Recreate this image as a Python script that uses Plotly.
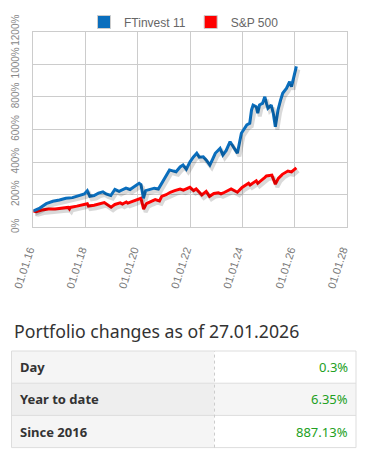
import datetime as dt
import plotly.graph_objects as go

W, H = 368, 460

# ---------------- data ----------------
ft_dates = ["2016-01-01","2016-04-01","2016-07-01","2016-10-01","2017-01-01","2017-04-01","2017-07-01",
            "2017-10-01","2017-12-15","2018-01-25","2018-03-01","2018-05-01","2018-07-01","2018-09-01",
            "2018-10-15","2018-12-20","2019-02-15","2019-04-15","2019-06-01","2019-07-20","2019-09-15",
            "2019-11-15","2020-01-20","2020-02-15","2020-03-20","2020-04-20","2020-06-15","2020-08-20",
            "2020-10-15","2020-12-15","2021-02-15","2021-03-20","2021-05-15","2021-06-20","2021-08-15",
            "2021-09-25","2021-11-10","2022-01-01","2022-02-15","2022-04-05","2022-05-10","2022-07-05",
            "2022-08-20","2022-10-05","2022-11-15","2022-12-20","2023-02-25","2023-04-05","2023-05-20",
            "2023-07-15","2023-08-20","2023-09-25","2023-10-25","2023-12-20","2024-01-15","2024-03-05",
            "2024-04-15","2024-05-10","2024-06-01","2024-07-15","2024-08-05","2024-08-30","2024-10-10",
            "2024-11-12","2024-12-05","2024-12-25","2025-02-10","2025-03-10","2025-04-08","2025-05-15",
            "2025-06-20","2025-07-20","2025-09-10","2025-10-25","2025-11-20","2026-01-05","2026-01-27"]
ft_values = [100,118,145,160,168,178,182,
             195,205,225,190,195,210,218,
             205,195,232,220,228,240,232,
             250,270,262,178,225,232,240,
             235,280,330,352,345,341,370,
             382,356,402,430,454,430,433,
             410,382,420,454,484,444,470,
             525,500,474,454,577,597,628,
             638,720,750,740,700,750,760,
             801,760,730,750,700,617,720,
             780,822,852,893,863,945,987]

sp_dates = ["2016-01-01","2016-02-10","2016-05-01","2016-08-01","2016-11-01","2017-02-01","2017-05-01",
            "2017-05-20","2017-06-01","2017-09-01","2017-12-01","2018-01-25","2018-02-10","2018-05-01",
            "2018-09-20","2018-12-24","2019-02-15","2019-05-01","2019-06-01","2019-07-25","2019-08-15",
            "2019-11-01","2020-02-15","2020-03-23","2020-05-01","2020-07-01","2020-09-01","2020-10-30",
            "2020-12-01","2021-02-01","2021-04-01","2021-06-01","2021-08-15","2021-10-01","2021-12-30",
            "2022-02-20","2022-03-28","2022-06-15","2022-08-15","2022-09-30","2022-12-01","2023-02-01",
            "2023-03-10","2023-05-01","2023-07-30","2023-10-25","2023-12-30","2024-03-30","2024-04-20",
            "2024-07-15","2024-08-05","2024-11-10","2024-12-05","2025-02-18","2025-04-08","2025-05-20",
            "2025-07-15","2025-10-01","2025-11-20","2026-01-27"]
sp_values = [100,96,106,112,113,118,122,
             112,122,130,138,145,130,135,
             152,123,140,150,142,155,148,
             160,178,112,145,158,170,162,
             190,200,215,225,235,228,245,
             225,235,198,220,190,208,212,
             205,215,235,215,245,270,260,
             285,270,305,315,320,265,300,
             325,345,340,365]

series_names = ["FTinvest 11", "S&P 500"]
series_colors = ["#0a6ebd", "#ff0000"]

y_ticks = [0, 200, 400, 600, 800, 1000, 1200]
y_tick_labels = ["0%", "200%", "400%", "600%", "800%", "1000%", "1200%"]
x_range = ["2016-01-01", "2028-01-01"]

table_title = "Portfolio changes as of 27.01.2026"
table_labels = ["Day", "Year to date", "Since 2016"]
table_values = ["0.3%", "6.35%", "887.13%"]

# ---------------- layout geometry (px) ----------------
PL, PR, PT, PB = 33.3, 346.7, 31.7, 227.3
xdom = [PL / W, PR / W]
ydom = [1 - PB / H, 1 - PT / H]

def px(x):
    return x / W

def py(y):
    return 1 - y / H

# shadow offset: shadow axes ranges shifted by a few pixels
d0 = dt.datetime(2016, 1, 1); d1 = dt.datetime(2028, 1, 1)
px_x = (d1 - d0) / (PR - PL)
sx, sy = 2.0, 3.0
sh_x_range = [d0 - px_x * sx, d1 - px_x * sx]
px_y = 1200 / (PB - PT)
sh_y_range = [0 + px_y * sy, 1200 + px_y * sy]

fig = go.Figure()

# shadows
for d, v in [(ft_dates, ft_values), (sp_dates, sp_values)]:
    fig.add_trace(go.Scatter(x=d, y=v, mode="lines", xaxis="x2", yaxis="y2",
                             line=dict(color="rgba(0,0,0,0.15)", width=4),
                             hoverinfo="skip", showlegend=False))

fig.add_trace(go.Scatter(x=sp_dates, y=sp_values, mode="lines", name=series_names[1],
                         line=dict(color=series_colors[1], width=3), showlegend=False))
fig.add_trace(go.Scatter(x=ft_dates, y=ft_values, mode="lines", name=series_names[0],
                         line=dict(color=series_colors[0], width=3), showlegend=False))

for n, c in zip(series_names, series_colors):
    fig.add_trace(go.Scatter(x=[None], y=[None], mode="markers", name=n,
                             marker=dict(symbol="square", size=13, color=c,
                                         line=dict(color="#cccccc", width=1))))

# ---------------- table built from shapes + text ----------------
TL, TR, TDIV = 11.5, 356, 214.5
TTOP, ROWH = 351, 32.2
fills_left = ["#f5f5f5", "#eeeeee", "#f5f5f5"]
fills_right = ["#ffffff", "#f5f5f5", "#ffffff"]
shapes = []
annotations = []
tfont = "Noto Sans, Open Sans, sans-serif"
for i, (lab, val) in enumerate(zip(table_labels, table_values)):
    y0 = TTOP + i * ROWH
    y1 = y0 + ROWH
    shapes.append(dict(type="rect", xref="paper", yref="paper", x0=px(TL), x1=px(TDIV),
                       y0=py(y1), y1=py(y0), fillcolor=fills_left[i], line=dict(width=0), layer="below"))
    shapes.append(dict(type="rect", xref="paper", yref="paper", x0=px(TDIV), x1=px(TR),
                       y0=py(y1), y1=py(y0), fillcolor=fills_right[i], line=dict(width=0), layer="below"))
    shapes.append(dict(type="line", xref="paper", yref="paper", x0=px(TL), x1=px(TR),
                       y0=py(y0), y1=py(y0), line=dict(color="#dddddd", width=1)))
    annotations.append(dict(text="<b>" + lab + "</b>", xref="paper", yref="paper",
                            x=px(TL + 6), y=py((y0 + y1) / 2), xanchor="left", yanchor="middle",
                            showarrow=False, font=dict(family=tfont, size=13, color="#333333")))
    annotations.append(dict(text=val, xref="paper", yref="paper",
                            x=px(TR - 6), y=py((y0 + y1) / 2), xanchor="right", yanchor="middle",
                            showarrow=False, font=dict(family=tfont, size=13, color="#22a022")))
TBOT = TTOP + 3 * ROWH
shapes.append(dict(type="line", xref="paper", yref="paper", x0=px(TL), x1=px(TR),
                   y0=py(TBOT), y1=py(TBOT), line=dict(color="#dddddd", width=1)))
shapes.append(dict(type="line", xref="paper", yref="paper", x0=px(TL), x1=px(TL),
                   y0=py(TBOT), y1=py(TTOP), line=dict(color="#dddddd", width=1)))
shapes.append(dict(type="line", xref="paper", yref="paper", x0=px(TR), x1=px(TR),
                   y0=py(TBOT), y1=py(TTOP), line=dict(color="#dddddd", width=1)))
shapes.append(dict(type="line", xref="paper", yref="paper", x0=px(TDIV), x1=px(TDIV),
                   y0=py(TBOT), y1=py(TTOP), line=dict(color="#cccccc", width=1, dash="dot")))

annotations.append(dict(text=table_title, xref="paper", yref="paper", x=px(12), y=py(331),
                        xanchor="left", yanchor="middle", showarrow=False,
                        font=dict(family=tfont, size=17.7, color="#333333")))

grid = "#cccccc"
x_tick_font = dict(family="Liberation Sans, Arial, sans-serif", size=11, color="#777777")
y_tick_font = dict(family="Liberation Sans, Arial, sans-serif", size=10, color="#888888")

fig.update_layout(
    width=W, height=H,
    margin=dict(l=0, r=0, t=0, b=0, autoexpand=False),
    paper_bgcolor="white", plot_bgcolor="white",
    xaxis=dict(domain=xdom, type="date", range=x_range, tick0="2016-01-01", dtick="M24",
               tickformat="%d.%m.%y", tickangle=-72, showgrid=True, gridcolor=grid,
               showline=True, linecolor=grid, mirror=True, ticks="", zeroline=False,
               tickfont=x_tick_font, automargin=False, fixedrange=True,
               ticklabelstandoff=11, ticklabelshift=-4),
    yaxis=dict(domain=ydom, range=[0, 1200], tickmode="array", tickvals=y_ticks,
               ticktext=y_tick_labels, tickangle=-90, showgrid=True, gridcolor=grid,
               showline=True, linecolor=grid, mirror=True, ticks="", zeroline=False,
               tickfont=y_tick_font, automargin=False, fixedrange=True, ticklabelstandoff=9),
    xaxis2=dict(domain=xdom, type="date", range=sh_x_range, overlaying="x", visible=False,
                anchor="y2"),
    yaxis2=dict(domain=ydom, range=sh_y_range, overlaying="y", visible=False, anchor="x2"),
    legend=dict(orientation="h", x=0.5, xanchor="center", y=py(22), yanchor="middle",
                font=dict(family="Liberation Sans, Arial, sans-serif", size=12, color="#666666"),
                bgcolor="rgba(0,0,0,0)", itemclick=False, itemdoubleclick=False),
    shapes=shapes,
    annotations=annotations,
)

fig.write_html("out.html", config=dict(displayModeBar=False),
               post_script="document.body.style.margin='0';document.body.style.overflow='hidden';")
